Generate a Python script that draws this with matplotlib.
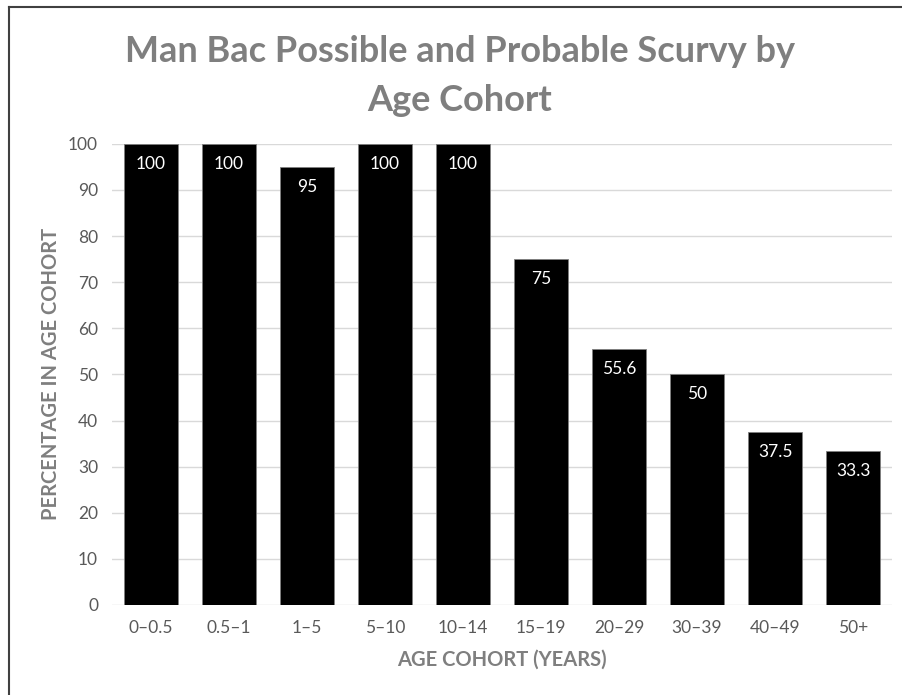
import matplotlib
matplotlib.use("Agg")
import matplotlib.pyplot as plt
from matplotlib.lines import Line2D

categories = ["0\u20130.5", "0.5\u20131", "1\u20135", "5\u201310", "10\u201314",
              "15\u201319", "20\u201329", "30\u201339", "40\u201349", "50+"]
values = [100, 100, 95, 100, 100, 75, 55.6, 50, 37.5, 33.3]
value_labels = ["100", "100", "95", "100", "100", "75", "55.6", "50", "37.5", "33.3"]
y_ticks = [0, 10, 20, 30, 40, 50, 60, 70, 80, 90, 100]

plt.rcParams['font.family'] = ['Lato', 'DejaVu Sans']
grey = "#7f7f7f"
tick_grey = "#595959"

fig = plt.figure(figsize=(9.03, 6.95), dpi=100)
ax = fig.add_axes([0.124, 0.1295, 0.864, 0.6635])

x = range(len(categories))
bars = ax.bar(x, values, width=0.69, color="black", edgecolor="#7f7f7f", linewidth=0.6, zorder=3)

for b, lab in zip(bars, value_labels):
    ax.annotate(lab, (b.get_x() + b.get_width() / 2, b.get_height()),
                xytext=(0, -20), textcoords="offset pixels",
                ha="center", va="center", color="white", fontsize=12.5, zorder=4)

ax.set_xlim(-0.5, len(categories) - 0.5)
ax.set_ylim(0, 100)
ax.set_yticks(y_ticks)
ax.set_xticks(list(x))
ax.set_xticklabels(categories)
ax.tick_params(axis="both", length=0, labelsize=12.5, labelcolor=tick_grey)
ax.tick_params(axis="y", pad=10)
ax.tick_params(axis="x", pad=11)
ax.grid(axis="y", color="#d9d9d9", linewidth=1, zorder=0)
for s in ax.spines.values():
    s.set_visible(False)

ax.set_xlabel("AGE COHORT (YEARS)", fontsize=14.5, fontweight="bold", color=grey, labelpad=10)
ax.set_ylabel("PERCENTAGE IN AGE COHORT", fontsize=14.5, fontweight="bold", color=grey, labelpad=5)

fig.text(0.509, 0.926, "Man Bac Possible and Probable Scurvy by", ha="center", va="center",
         fontsize=26, fontweight="bold", color=grey)
fig.text(0.509, 0.856, "Age Cohort", ha="center", va="center",
         fontsize=26, fontweight="bold", color=grey)

# outer frame (top and left edges)
fig.add_artist(Line2D([9 / 903, 9 / 903], [0, 1 - 7 / 695], transform=fig.transFigure,
                      color="#404040", linewidth=1.5))
fig.add_artist(Line2D([9 / 903, 1], [1 - 7 / 695, 1 - 7 / 695], transform=fig.transFigure,
                      color="#404040", linewidth=1.5))

fig.savefig("out.png", dpi=100)
